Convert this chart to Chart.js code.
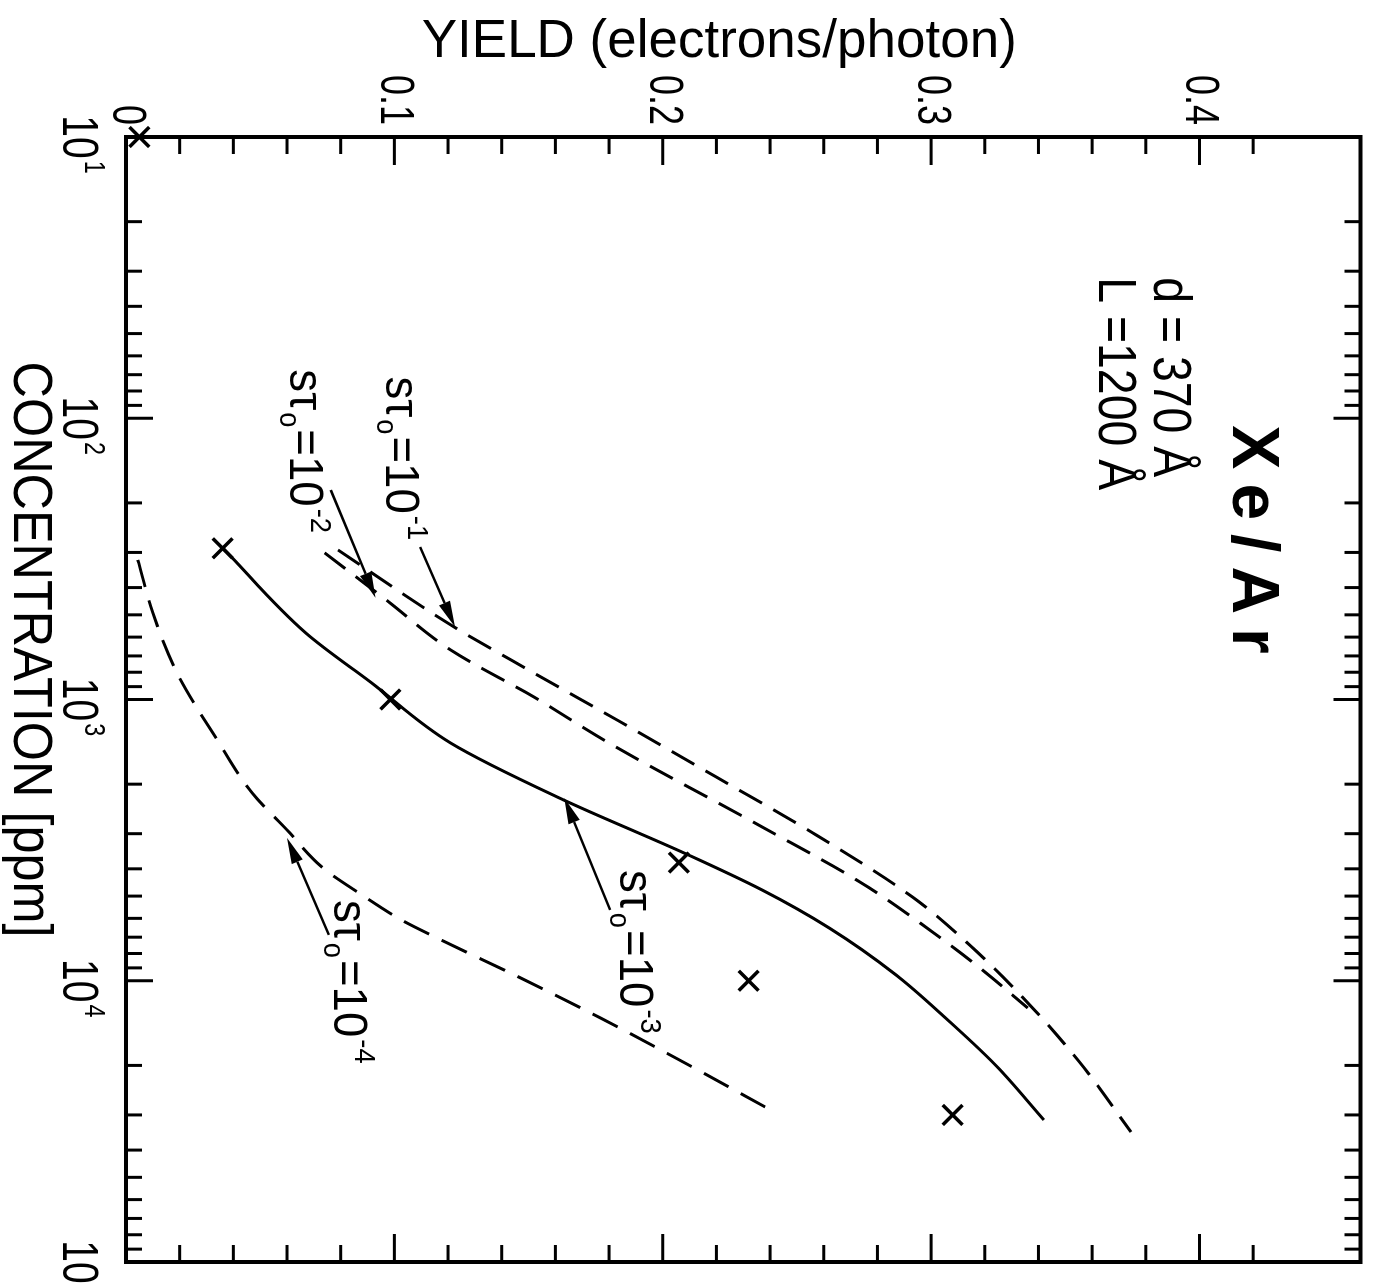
<!DOCTYPE html>
<html>
<head>
<meta charset="utf-8">
<script src="https://cdn.jsdelivr.net/npm/chart.js@4.4.1/dist/chart.umd.min.js"></script>
<style>
  html, body { margin: 0; padding: 0; background: #fff; overflow: hidden; }
  /* the plot is laid out with concentration on x, then turned a quarter turn clockwise */
  #wrap {
    position: absolute; left: 0; top: 0;
    width: 1284px; height: 1378px;
    transform-origin: 0 0;
    transform: translateX(1378px) rotate(90deg);
  }
</style>
</head>
<body>
<div id="wrap"><canvas id="chart" width="1284" height="1378"></canvas></div>
<script>
// axis ticks
const concTicks = [10, 20, 30, 40, 50, 60, 70, 80, 90,
  100, 200, 300, 400, 500, 600, 700, 800, 900,
  1000, 2000, 3000, 4000, 5000, 6000, 7000, 8000, 9000,
  10000, 20000, 30000, 40000, 50000, 60000, 70000, 80000, 90000, 100000]
const decades = [10, 100, 1000, 10000, 100000]
const decadeExp = ['1', '2', '3', '4', '5']
const yieldTicks = [0, 0.02, 0.04, 0.06, 0.08, 0.1, 0.12, 0.14, 0.16, 0.18,
  0.2, 0.22, 0.24, 0.26, 0.28, 0.3, 0.32, 0.34, 0.36, 0.38, 0.4, 0.42]
const yieldMajor = [0, 0.1, 0.2, 0.3, 0.4]
const yieldLabels = ['0', '0.1', '0.2', '0.3', '0.4']

// calculated yield curves, one per s*tau0
const concS1 = [294, 543, 805, 1183, 1888, 2985, 5035, 7470, 12700, 20400, 34500]
const yieldS1 = [0.079, 0.121, 0.152, 0.183, 0.220, 0.256, 0.293, 0.3144, 0.3385, 0.357, 0.3745]

const concS2 = [301, 443, 667, 980, 1429, 2838, 4487, 6982, 9300, 12500]
const yieldS2 = [0.074, 0.097, 0.121, 0.152, 0.180, 0.237, 0.274, 0.303, 0.320, 0.336]

const concS3 = [289, 580, 873, 1429, 2275, 3515, 4755, 6490, 9550, 13460, 19950, 31260]
const yieldS3 = [0.036, 0.067, 0.0915, 0.121, 0.163, 0.208, 0.237, 0.262, 0.287, 0.305, 0.324, 0.342]

const concS4 = [319, 492, 805, 1393, 2148, 2910, 3945, 4960, 6080, 7160, 9770, 13550, 19150, 29510]
const yieldS4 = [0.0044, 0.010, 0.019, 0.034, 0.047, 0.060, 0.073, 0.088, 0.1026, 0.1174, 0.147, 0.1767, 0.2063, 0.2422]

// measured points
const measConc = [10, 290, 1000, 3800, 10000, 30000]
const measYield = [0.005, 0.036, 0.0985, 0.206, 0.232, 0.308]

// curve labels and their arrows
const labelExp = ['-1', '-2', '-3', '-4']
const labelConc = [71, 67, 4040, 5160]
const labelYield = [0.097, 0.061, 0.184, 0.0774]
const arrowFromConc = [287, 180, 5600, 6870]
const arrowFromYield = [0.1096, 0.0763, 0.1804, 0.0756]
const arrowToConc = [552, 435, 2240, 3105]
const arrowToYield = [0.1226, 0.093, 0.1633, 0.060]

const SANS = '"Liberation Sans", Arial, sans-serif'
const SQUEEZE = 0.78 // lettering is narrower than the sans face

function toPoints(xs, ys) {
  return xs.map((c, i) => ({ x: c, y: ys[i] }))
}

function near(a, b) {
  return Math.abs(a - b) < 1e-9
}

function curve(label, xs, ys, dash) {
  return {
    label: label,
    data: toPoints(xs, ys),
    borderColor: '#000',
    borderWidth: 3,
    borderDash: dash,
    pointRadius: 0,
    fill: false,
    cubicInterpolationMode: 'monotone'
  }
}

// text squeezed horizontally by sx
function fillSqueezed(ctx, txt, x, y, sx) {
  ctx.save()
  ctx.translate(x, y)
  ctx.scale(sx, 1)
  ctx.fillText(txt, 0, 0)
  ctx.restore()
  return ctx.measureText(txt).width * sx
}

// draws text made of normal / sub / sup pieces starting at (x, y) on the baseline
function drawRich(ctx, x, y, parts, size, sx, gap) {
  ctx.textAlign = 'left'
  ctx.textBaseline = 'alphabetic'
  let cx = x
  parts.forEach(([txt, kind]) => {
    let s = size
    let dy = 0
    if (kind === 'sub') { s = size * 0.6; dy = size * 0.2 }
    if (kind === 'sup') { s = size * 0.6; dy = -size * 0.45 }
    ctx.font = s + 'px ' + SANS
    cx += fillSqueezed(ctx, txt, cx, y + dy, sx) + gap
  })
}

function drawArrow(ctx, x1, y1, x2, y2) {
  const ang = Math.atan2(y2 - y1, x2 - x1)
  const head = 26
  const half = 6
  const bx = x2 - head * Math.cos(ang)
  const by = y2 - head * Math.sin(ang)
  ctx.lineWidth = 2.5
  ctx.beginPath()
  ctx.moveTo(x1, y1)
  ctx.lineTo(bx, by)
  ctx.stroke()
  ctx.beginPath()
  ctx.moveTo(x2, y2)
  ctx.lineTo(bx + half * Math.sin(ang), by - half * Math.cos(ang))
  ctx.lineTo(bx - half * Math.sin(ang), by + half * Math.cos(ang))
  ctx.closePath()
  ctx.fill()
}

// box with inward ticks on all four sides, plus tick labels
const framePlugin = {
  id: 'frame',
  afterDatasetsDraw(chart) {
    const { ctx, chartArea: a, scales: { x, y } } = chart
    ctx.save()
    ctx.strokeStyle = '#000'
    ctx.fillStyle = '#000'
    ctx.lineCap = 'butt'
    ctx.lineWidth = 4
    ctx.strokeRect(a.left, a.top, a.right - a.left, a.bottom - a.top)
    ctx.lineWidth = 3
    const seg = (x1, y1, x2, y2) => {
      ctx.beginPath()
      ctx.moveTo(x1, y1)
      ctx.lineTo(x2, y2)
      ctx.stroke()
    }
    x.ticks.forEach(t => {
      const px = x.getPixelForValue(t.value)
      const len = decades.includes(t.value) ? 27 : 16
      seg(px, a.bottom, px, a.bottom - len)
      seg(px, a.top, px, a.top + len)
    })
    y.ticks.forEach(t => {
      const py = y.getPixelForValue(t.value)
      const len = yieldMajor.some(m => near(m, t.value)) ? 28 : 17
      seg(a.left, py, a.left + len, py)
      seg(a.right, py, a.right - len, py)
    })

    // yield labels
    ctx.font = '48px ' + SANS
    ctx.textAlign = 'right'
    ctx.textBaseline = 'middle'
    yieldMajor.forEach((m, i) => {
      fillSqueezed(ctx, yieldLabels[i], a.left - 12, y.getPixelForValue(m), 0.75)
    })

    // decade labels 10^n
    decades.forEach((d, i) => {
      ctx.font = '50px ' + SANS
      const w = ctx.measureText('10').width * SQUEEZE
      drawRich(ctx, x.getPixelForValue(d) - w / 2, a.bottom + 63,
        [['10', ''], [decadeExp[i], 'sup']], 50, SQUEEZE, 2)
    })
    ctx.restore()
  }
}

// axis titles, gas mixture note and curve labels
const notesPlugin = {
  id: 'notes',
  afterDraw(chart) {
    const { ctx, chartArea: a, scales: { x, y } } = chart
    const midX = (a.left + a.right) / 2
    const midY = (a.top + a.bottom) / 2
    ctx.save()
    ctx.fillStyle = '#000'
    ctx.strokeStyle = '#000'

    // y title, turned so it runs along the yield axis
    ctx.save()
    ctx.translate(a.left - 95, midY + 24)
    ctx.rotate(-Math.PI / 2)
    ctx.font = '53px ' + SANS
    ctx.textAlign = 'center'
    ctx.textBaseline = 'middle'
    ctx.fillText('YIELD (electrons/photon)', 0, 0)
    ctx.restore()

    // x title
    ctx.font = '56px ' + SANS
    ctx.textAlign = 'center'
    ctx.textBaseline = 'middle'
    fillSqueezed(ctx, 'CONCENTRATION [ppm]', midX - 50, a.bottom + 97, 0.9)

    // mixture and geometry
    ctx.font = 'bold 66px ' + SANS
    ctx.textAlign = 'left'
    ctx.textBaseline = 'alphabetic'
    ctx.letterSpacing = '14px'
    ctx.fillText('Xe/Ar', x.getPixelForValue(106), y.getPixelForValue(0.4126))
    ctx.letterSpacing = '0px'
    ctx.font = '54px ' + SANS
    fillSqueezed(ctx, 'd = 370 Å', x.getPixelForValue(31.5), y.getPixelForValue(0.383), 0.86)
    fillSqueezed(ctx, 'L =1200 Å', x.getPixelForValue(31.5), y.getPixelForValue(0.3626), 0.86)

    // curve labels with arrows
    labelExp.forEach((e, i) => {
      drawRich(ctx, x.getPixelForValue(labelConc[i]), y.getPixelForValue(labelYield[i]),
        [['sτ', ''], ['o', 'sub'], ['=10', ''], [e, 'sup']], 48, 0.95, 2)
      drawArrow(ctx,
        x.getPixelForValue(arrowFromConc[i]), y.getPixelForValue(arrowFromYield[i]),
        x.getPixelForValue(arrowToConc[i]), y.getPixelForValue(arrowToYield[i]))
    })
    ctx.restore()
  }
}

const ctx = document.getElementById('chart').getContext('2d')

new Chart(ctx, {
  type: 'line',
  data: {
    datasets: [
      curve('sτ₀=10⁻¹', concS1, yieldS1, [26, 13]),
      curve('sτ₀=10⁻²', concS2, yieldS2, [26, 13]),
      curve('sτ₀=10⁻³', concS3, yieldS3, []),
      curve('sτ₀=10⁻⁴', concS4, yieldS4, [28, 14]),
      {
        type: 'scatter',
        label: 'measured',
        data: toPoints(measConc, measYield),
        pointStyle: 'crossRot',
        pointRadius: 14,
        borderColor: '#000',
        backgroundColor: '#000',
        borderWidth: 3.5,
        showLine: false,
        clip: false
      }
    ]
  },
  options: {
    responsive: false,
    animation: false,
    devicePixelRatio: 1,
    layout: { padding: { top: 12, right: 22, left: 0, bottom: 0 } },
    plugins: {
      legend: { display: false },
      tooltip: { enabled: false }
    },
    scales: {
      x: {
        type: 'logarithmic',
        min: 10,
        max: 100000,
        grid: { display: false, drawTicks: false },
        border: { display: false },
        ticks: { display: false, autoSkip: false },
        afterBuildTicks: scale => {
          scale.ticks = concTicks.map(v => ({ value: v }))
        },
        afterFit: scale => {
          scale.height = 126
          scale.paddingLeft = 0
          scale.paddingRight = 0
        }
      },
      y: {
        type: 'linear',
        min: 0,
        max: 0.46,
        grid: { display: false, drawTicks: false },
        border: { display: false },
        ticks: { display: false, autoSkip: false },
        afterBuildTicks: scale => {
          scale.ticks = yieldTicks.map(v => ({ value: v }))
        },
        afterFit: scale => {
          scale.width = 137
          scale.paddingTop = 0
          scale.paddingBottom = 0
        }
      }
    }
  },
  plugins: [framePlugin, notesPlugin]
})
</script>
</body>
</html>
